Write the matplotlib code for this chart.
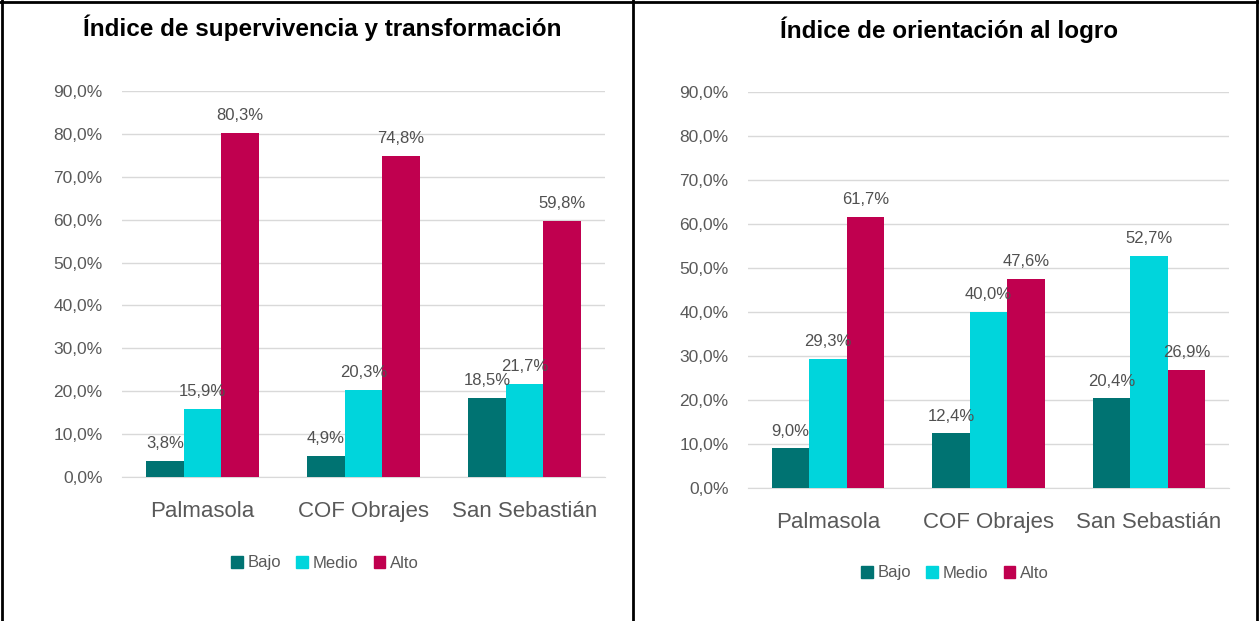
import matplotlib.pyplot as plt
import numpy as np
from matplotlib.patches import Patch
from matplotlib.lines import Line2D

# Datos
centros = ["Palmasola", "COF Obrajes", "San Sebastián"]
niveles = ["Bajo", "Medio", "Alto"]
colores = ["#007372", "#00d5dc", "#c0004f"]

titulo_izq = "Índice de supervivencia y transformación"
superv_bajo = [3.8, 4.9, 18.5]
superv_medio = [15.9, 20.3, 21.7]
superv_alto = [80.3, 74.8, 59.8]

titulo_der = "Índice de orientación al logro"
logro_bajo = [9.0, 12.4, 20.4]
logro_medio = [29.3, 40.0, 52.7]
logro_alto = [61.7, 47.6, 26.9]

plt.rcParams['font.family'] = ['Liberation Sans', 'DejaVu Sans']

W, H = 1259, 621
fig = plt.figure(figsize=(W / 100, H / 100), dpi=100)


def px_axes(x0, x1, y_top, y_bot):
    return fig.add_axes([x0 / W, 1 - y_bot / H, (x1 - x0) / W, (y_bot - y_top) / H])


def pct(v):
    return f"{v:.1f}%".replace(".", ",")


def panel(ax, series, titulo, title_xy, legend_xy):
    x = np.arange(len(centros))
    ancho = 0.234
    for i, (vals, nivel, col) in enumerate(zip(series, niveles, colores)):
        barras = ax.bar(x + (i - 1) * ancho, vals, width=ancho, color=col, label=nivel, zorder=3)
        ax.bar_label(barras, labels=[pct(v) for v in vals],
                     padding=7, fontsize=12, color="#505050", zorder=4)
    ax.set_ylim(0, 90)
    ax.set_xlim(-0.5, 2.5)
    ax.set_yticks(np.arange(0, 91, 10))
    ax.set_yticklabels([pct(v) for v in np.arange(0, 91, 10)])
    ax.set_xticks(x)
    ax.set_xticklabels(centros)
    ax.tick_params(axis='y', length=0, labelsize=12.5, labelcolor="#595959", pad=14)
    ax.tick_params(axis='x', length=0, labelsize=16, labelcolor="#595959", pad=17)
    ax.grid(axis='y', color="#d9d9d9", linewidth=1, zorder=0)
    for s in ["top", "right", "left"]:
        ax.spines[s].set_visible(False)
    ax.spines["bottom"].set_color("#d9d9d9")
    ax.set_facecolor("none")
    fig.text(title_xy[0] / W, 1 - title_xy[1] / H, titulo, ha="center", va="center",
             fontsize=17.5, fontweight="bold", color="black")
    handles = [Patch(color=c, label=n) for c, n in zip(colores, niveles)]
    fig.legend(handles=handles, loc="center", bbox_to_anchor=(legend_xy[0] / W, 1 - legend_xy[1] / H),
               ncol=3, frameon=False, fontsize=12, labelcolor="#595959",
               handlelength=0.7, handleheight=0.7, handletextpad=0.3, columnspacing=0.9)


ax1 = px_axes(122, 605, 91, 477)
panel(ax1, [superv_bajo, superv_medio, superv_alto], titulo_izq, (322, 28), (325, 563))

ax2 = px_axes(748, 1229, 92, 488)
panel(ax2, [logro_bajo, logro_medio, logro_alto], titulo_der, (949, 30), (955, 573))

# Marco de la tabla
for xs, ys in [((2, 2), (0, H)), ((633, 633), (0, H)), ((W - 2, W - 2), (0, H)), ((0, W), (2, 2))]:
    fig.add_artist(Line2D([xs[0] / W, xs[1] / W], [1 - ys[0] / H, 1 - ys[1] / H],
                          color="black", linewidth=2, transform=fig.transFigure))

fig.savefig("out.png", dpi=100)
